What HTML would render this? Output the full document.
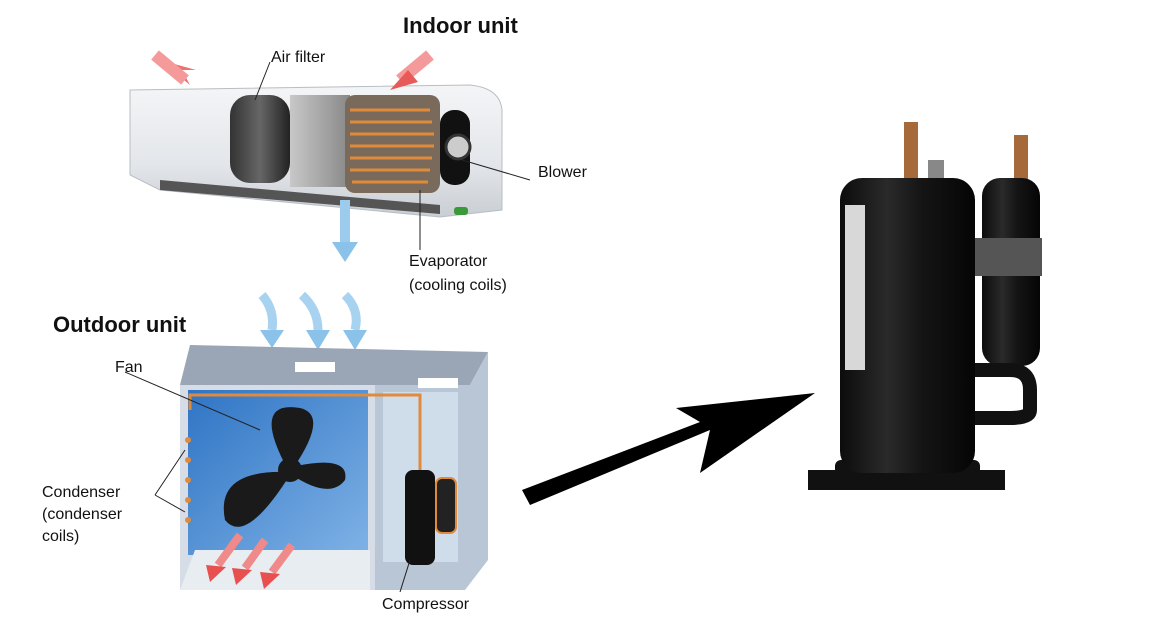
<!DOCTYPE html>
<html><head><meta charset="utf-8">
<style>
html,body{margin:0;padding:0;background:#fff;}
svg{display:block;}
text{font-family:"Liberation Sans",sans-serif;fill:#111;}
</style></head>
<body>
<svg width="1150" height="628" viewBox="0 0 1150 628" xmlns="http://www.w3.org/2000/svg">
<defs>
<linearGradient id="ind" x1="0" y1="0" x2="0" y2="1">
<stop offset="0" stop-color="#f4f5f7"/><stop offset="0.6" stop-color="#e3e6ea"/><stop offset="1" stop-color="#c9ced4"/></linearGradient>
<linearGradient id="cyl" x1="0" y1="0" x2="1" y2="0">
<stop offset="0" stop-color="#0c0c0c"/><stop offset="0.35" stop-color="#2a2a2a"/><stop offset="0.6" stop-color="#151515"/><stop offset="1" stop-color="#050505"/></linearGradient>
<linearGradient id="blue" x1="0" y1="0" x2="1" y2="1">
<stop offset="0" stop-color="#2f74c4"/><stop offset="1" stop-color="#7fb2e6"/></linearGradient>
<linearGradient id="filt" x1="0" y1="0" x2="1" y2="0">
<stop offset="0" stop-color="#333"/><stop offset="0.5" stop-color="#666"/><stop offset="1" stop-color="#222"/></linearGradient>
<linearGradient id="coil" x1="0" y1="0" x2="1" y2="0">
<stop offset="0" stop-color="#c8c8c8"/><stop offset="1" stop-color="#888"/></linearGradient>
</defs>

<!-- Indoor unit -->
<path d="M130 90 L470 85 Q500 88 502 110 L502 210 L440 217 L160 190 L130 175 Z" fill="url(#ind)" stroke="#b8bec5"/>
<path d="M160 180 L440 205 L440 214 L160 190 Z" fill="#555"/>
<rect x="230" y="95" width="60" height="88" rx="20" fill="url(#filt)"/>
<rect x="290" y="95" width="60" height="92" fill="url(#coil)"/>
<rect x="345" y="95" width="95" height="98" rx="10" fill="#7a6a5c"/>
<g stroke="#e08a3c" stroke-width="3" fill="none">
<path d="M350 110 H430 M350 122 H432 M350 134 H434 M350 146 H434 M350 158 H432 M350 170 H430 M352 182 H428"/>
</g>
<rect x="440" y="110" width="30" height="75" rx="14" fill="#111"/>
<circle cx="458" cy="147" r="12" fill="#ccc" stroke="#333" stroke-width="3"/>
<rect x="454" y="207" width="14" height="8" rx="3" fill="#3a9a3a"/>
<!-- red arrows indoor -->
<path d="M160 60 L190 85 L182 70 L196 70 Z" fill="#f07070"/>
<path d="M155 55 L185 80" stroke="#f59a9a" stroke-width="12"/>
<path d="M430 55 L400 80" stroke="#f59a9a" stroke-width="12"/>
<path d="M390 90 L408 70 L418 82 Z" fill="#e85a5a"/>
<!-- blue arrow from indoor -->
<path d="M345 200 Q345 230 345 245" stroke="#9ccbee" stroke-width="10" fill="none"/>
<path d="M332 242 L358 242 L345 262 Z" fill="#8bc2ea"/>
<!-- blue arrows to outdoor -->
<g stroke="#a8d3f0" stroke-width="9" fill="none">
<path d="M262 295 Q275 310 272 330"/><path d="M302 295 Q318 310 318 330"/><path d="M345 295 Q360 310 355 330"/>
</g>
<path d="M260 330 L284 330 L272 348 Z" fill="#8bc2ea"/>
<path d="M306 330 L330 330 L318 350 Z" fill="#8bc2ea"/>
<path d="M343 330 L367 330 L355 350 Z" fill="#8bc2ea"/>

<!-- Outdoor unit -->
<path d="M190 345 L488 352 L470 385 L180 385 Z" fill="#9aa6b6"/>
<path d="M180 385 L375 385 L375 590 L180 590 Z" fill="#d6dde6"/>
<rect x="188" y="390" width="180" height="165" fill="url(#blue)"/>
<path d="M375 385 L470 385 L488 352 L488 560 L465 590 L375 590 Z" fill="#b9c6d6"/>
<rect x="383" y="392" width="75" height="170" fill="#cfdcea"/>
<path d="M195 550 L370 550 L370 590 L180 590 Z" fill="#e8edf2"/>
<rect x="295" y="362" width="40" height="10" fill="#fff"/>
<rect x="418" y="378" width="40" height="10" fill="#fff"/>
<path d="M190 410 L190 395 L420 395 L420 470" stroke="#e08a3c" stroke-width="3" fill="none"/>
<g fill="#e08a3c"><circle cx="188" cy="440" r="3"/><circle cx="188" cy="460" r="3"/><circle cx="188" cy="480" r="3"/><circle cx="188" cy="500" r="3"/><circle cx="188" cy="520" r="3"/></g>
<!-- fan -->
<g fill="#1a1a1a">
<path d="M288 470 Q250 400 300 408 Q330 415 292 470 Z"/>
<path d="M286 472 Q215 470 225 520 Q245 545 288 478 Z"/>
<path d="M292 475 Q330 500 345 480 Q350 455 296 466 Z"/>
<circle cx="290" cy="470" r="12"/>
</g>
<!-- compressor small -->
<rect x="405" y="470" width="30" height="95" rx="8" fill="#111"/>
<rect x="436" y="478" width="20" height="55" rx="6" fill="#222" stroke="#e08a3c" stroke-width="2"/>
<!-- red arrows outdoor -->
<g stroke="#f08a8a" stroke-width="8"><path d="M240 535 L218 565"/><path d="M265 540 L245 568"/><path d="M292 545 L272 572"/></g>
<g fill="#e85050"><path d="M206 565 L226 567 L210 582 Z"/><path d="M232 568 L252 570 L236 585 Z"/><path d="M260 572 L280 574 L264 589 Z"/></g>

<!-- leader lines -->
<g stroke="#222" stroke-width="1" fill="none">
<path d="M270 62 L255 100"/>
<path d="M462 160 L530 180"/>
<path d="M420 190 L420 250"/>
<path d="M125 372 L260 430"/>
<path d="M155 495 L185 450 M155 495 L185 512"/>
<path d="M410 560 L400 592"/>
</g>

<!-- big arrow -->
<path d="M522 490 L530 505 L710 430 L700 473 L815 393 L676 408 L700 422 Z" fill="#000"/>

<!-- Compressor photo -->
<rect x="904" y="122" width="14" height="60" fill="#a66a3a"/>
<rect x="1014" y="135" width="14" height="50" fill="#a66a3a"/>
<rect x="928" y="160" width="16" height="22" fill="#888"/>
<path d="M808 470 L1005 470 L1005 490 L808 490 Z" fill="#111"/>
<rect x="835" y="460" width="145" height="20" rx="6" fill="#111"/>
<rect x="840" y="178" width="135" height="295" rx="22" fill="url(#cyl)"/>
<rect x="845" y="205" width="20" height="165" fill="#d8d8d8"/>
<rect x="982" y="178" width="58" height="188" rx="18" fill="url(#cyl)"/>
<rect x="975" y="238" width="67" height="38" fill="#555"/>
<path d="M975 370 L1010 370 Q1030 370 1030 390 L1030 410 Q1030 418 1010 418 L975 418" stroke="#111" stroke-width="14" fill="none"/>

<!-- labels -->
<text x="403" y="33" font-size="22" font-weight="bold">Indoor unit</text>
<text x="53" y="332" font-size="22" font-weight="bold">Outdoor unit</text>
<text x="271" y="62" font-size="16">Air filter</text>
<text x="538" y="177" font-size="16">Blower</text>
<text x="409" y="266" font-size="16">Evaporator</text>
<text x="409" y="290" font-size="16">(cooling coils)</text>
<text x="115" y="372" font-size="16">Fan</text>
<text x="42" y="497" font-size="16">Condenser</text>
<text x="42" y="519" font-size="16">(condenser</text>
<text x="42" y="541" font-size="16">coils)</text>
<text x="382" y="609" font-size="16">Compressor</text>
</svg>
</body></html>
